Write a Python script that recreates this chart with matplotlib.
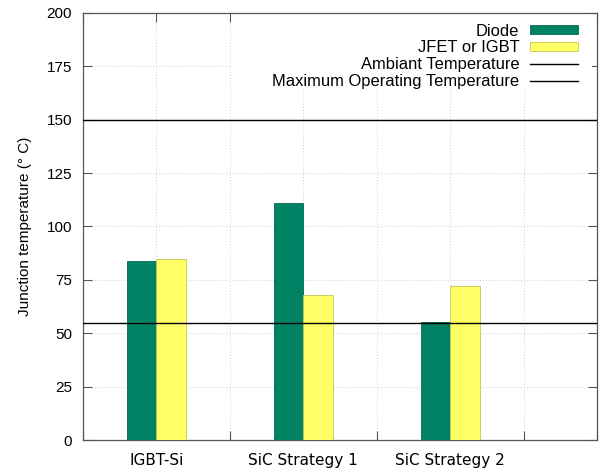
import numpy as np
import matplotlib
matplotlib.use("Agg")
import matplotlib.pyplot as plt
from matplotlib.patches import Rectangle

# data (empty rows are the gaps between groups)
categories = ['IGBT-Si', '', 'SiC Strategy 1', '', 'SiC Strategy 2']
diode = [84, 0, 111, 0, 55.5]
jfet = [85, 0, 68, 0, 72]
ambient_temp = 55
max_temp = 150

green = '#008264'
yellow = '#ffff66'
sans = 'Liberation Sans'

fig = plt.figure(figsize=(6.11, 4.73), dpi=100)
ax = fig.add_axes([83 / 611, 33 / 473, 514 / 611, 427 / 473])

x = np.arange(len(categories))
w = 0.4
b1 = ax.bar(x - w / 2, diode, w, color=green, edgecolor='#006a50', linewidth=0.6,
            label='Diode', zorder=3)
b2 = ax.bar(x + w / 2, jfet, w, color=yellow, edgecolor='#c8c850', linewidth=0.6,
            label='JFET or IGBT', zorder=3)
l1 = ax.axhline(ambient_temp, color='black', lw=1.0, label='Ambiant Temperature', zorder=4)
l2 = ax.axhline(max_temp, color='black', lw=1.0, label='Maximum Operating Temperature', zorder=4)

ax.set_xlim(-1, 6)
ax.set_ylim(0, 200)
ax.set_xticks(np.arange(-1, 7))
ax.set_xticklabels([''] + categories + ['', ''], family='DejaVu Sans', fontsize=11)
ax.set_yticks(np.arange(0, 201, 25))
ax.set_yticklabels([str(v) for v in range(0, 201, 25)], family=sans, fontsize=11)
ax.tick_params(direction='in', length=6.5, width=0.8, color='#555555',
               top=True, right=True)
ax.tick_params(axis='x', pad=9)
ax.tick_params(axis='y', pad=8)
ax.grid(True, linestyle=(0, (1, 2.5)), color='#c0c0c0', linewidth=0.6, zorder=0)
ax.set_axisbelow(True)
for s in ax.spines.values():
    s.set_color('#555555')
    s.set_linewidth(0.9)

ax.set_ylabel('Junction temperature (° C)', family=sans, fontsize=11, labelpad=10)

# opaque key area like gnuplot
ax.add_patch(Rectangle((0.29, 0.824), 0.70, 0.176, transform=ax.transAxes,
                       facecolor='white', edgecolor='none', zorder=2))

leg = ax.legend([b1, b2, l1, l2],
                ['Diode', 'JFET or IGBT', 'Ambiant Temperature', 'Maximum Operating Temperature'],
                loc='upper right', bbox_to_anchor=(0.963, 0.975), markerfirst=False,
                frameon=False, prop={'family': sans, 'size': 11.9},
                handlelength=2.9, handleheight=0.42, handletextpad=0.65,
                labelspacing=0.1, borderaxespad=0, borderpad=0)
leg.set_zorder(5)

fig.savefig('out.png', dpi=100)
